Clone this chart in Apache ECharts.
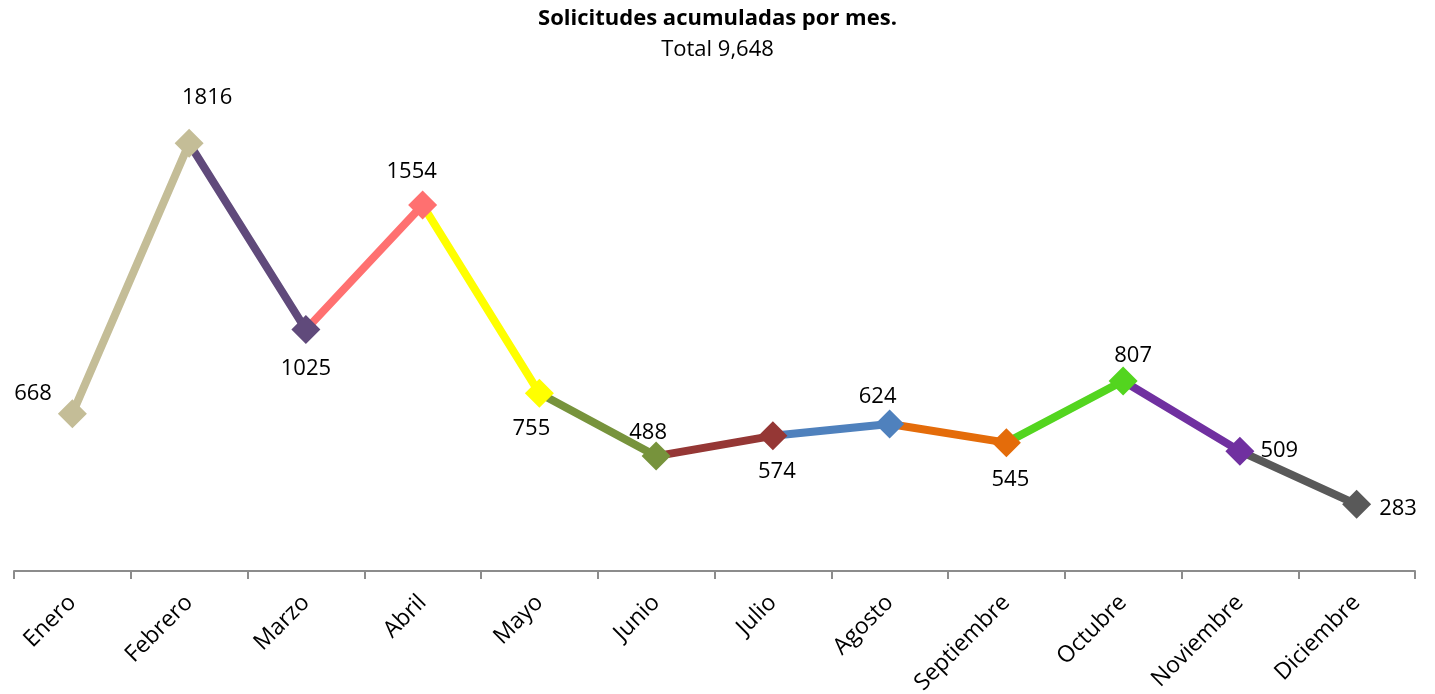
<!DOCTYPE html>
<html>
<head>
<meta charset="utf-8">
<title>Solicitudes acumuladas por mes</title>
<script src="https://cdn.jsdelivr.net/npm/echarts@6/dist/echarts.min.js"></script>
<style>
  html, body { margin: 0; padding: 0; background: #fff; }
  #chart { width: 1435px; height: 694px; }
</style>
</head>
<body>
<div id="chart"></div>
<script>
// datos
const months = ['Enero', 'Febrero', 'Marzo', 'Abril', 'Mayo', 'Junio', 'Julio',
  'Agosto', 'Septiembre', 'Octubre', 'Noviembre', 'Diciembre']
const values = [668, 1816, 1025, 1554, 755, 488, 574, 624, 545, 807, 509, 283]
const total = 9648

// color de cada punto (el tramo que llega a un punto usa su color)
const pointColors = ['#C4BD97', '#C4BD97', '#604A7B', '#FF7070', '#FFFF00', '#77933C',
  '#953735', '#4F81BD', '#E46C0A', '#53D51F', '#7030A0', '#595959']
const labelPos = ['left', 'top', 'bottom', 'top', 'bottom', 'top', 'bottom', 'top', 'bottom', 'top', 'right', 'right']
const labelOffset = [[0, -20], [18, -14], [0, 8], [-11, -2], [-8, 4], [-8, 8], [4, 4], [-12, 4], [4, 6], [10, 6], [0, 0], [2, 4]]

const font = 'Open Sans, Liberation Sans, sans-serif'

const chart = echarts.init(document.getElementById('chart'))

// un tramo por mes
const segments = []
for (let i = 1; i < values.length; i++) {
  const data = values.map((v, j) => (j === i - 1 || j === i) ? v : null)
  segments.push({
    type: 'line',
    data: data,
    symbol: 'none',
    connectNulls: false,
    lineStyle: { color: pointColors[i], width: 8, cap: 'round' },
    z: 2,
    silent: true
  })
}

const markers = {
  type: 'scatter',
  symbol: 'diamond',
  symbolSize: 29,
  z: 5,
  data: values.map((v, i) => ({
    value: v,
    itemStyle: { color: pointColors[i], opacity: 1 },
    label: {
      show: true,
      position: labelPos[i],
      offset: labelOffset[i],
      distance: 6,
      formatter: '{c}',
      fontSize: 22,
      fontFamily: font,
      color: '#000'
    }
  }))
}

const option = {
  animation: false,
  title: {
    text: 'Solicitudes acumuladas por mes.',
    subtext: 'Total ' + total.toLocaleString('en-US'),
    left: 'center',
    top: 3,
    itemGap: 9,
    textStyle: { fontSize: 22, fontWeight: 'bold', color: '#000', fontFamily: font },
    subtextStyle: { fontSize: 22, color: '#000', fontFamily: font }
  },
  grid: { left: 14, right: 20, top: 100, bottom: 123, containLabel: false, outerBoundsMode: 'none' },
  xAxis: {
    type: 'category',
    data: months,
    boundaryGap: true,
    axisLine: { lineStyle: { color: '#8c8c8c', width: 2 } },
    axisTick: { show: true, length: 8, lineStyle: { color: '#8c8c8c', width: 2 } },
    axisLabel: { rotate: 45, fontSize: 23, color: '#000', fontFamily: font, margin: 28, interval: 0 }
  },
  yAxis: {
    type: 'value',
    min: 0,
    max: 2000,
    show: false
  },
  series: [...segments, markers]
}

chart.setOption(option)
</script>
</body>
</html>
